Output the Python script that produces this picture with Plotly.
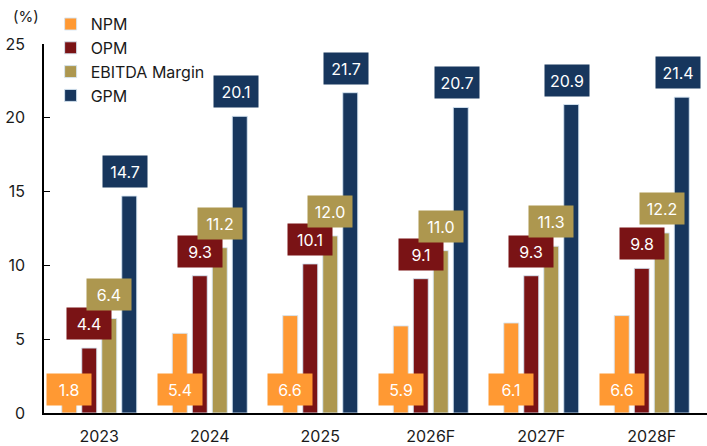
import plotly.graph_objects as go

categories = ["2023", "2024", "2025", "2026F", "2027F", "2028F"]
npm = [1.8, 5.4, 6.6, 5.9, 6.1, 6.6]
opm = [4.4, 9.3, 10.1, 9.1, 9.3, 9.8]
ebitda = [6.4, 11.2, 12.0, 11.0, 11.3, 12.2]
gpm = [14.7, 20.1, 21.7, 20.7, 20.9, 21.4]
y_ticks = [0, 5, 10, 15, 20, 25]

series = [
    ("NPM", npm, "#FF9933"),
    ("OPM", opm, "#7A1315"),
    ("EBITDA Margin", ebitda, "#AD974F"),
    ("GPM", gpm, "#17365D"),
]

FONT = "Inter, Liberation Sans, sans-serif"
TXT = "#1a1a1a"
bargap = 0.276
n = len(series)
slot = (1 - bargap) / n
xs = list(range(len(categories)))

fig = go.Figure()
annotations = []
for k, (name, vals, color) in enumerate(series):
    fig.add_trace(go.Bar(
        x=xs, y=vals, name=name, hoverinfo="skip",
        marker=dict(color=color, line=dict(color="rgba(214,230,243,0.9)", width=1)),
    ))
    off = (k - (n - 1) / 2) * slot
    for i, v in enumerate(vals):
        if name == "NPM":
            ay, yshift = 0, 7
        else:
            ay, yshift = v, 8
        annotations.append(dict(
            x=xs[i] + off, y=ay, xref="x", yref="y",
            text=f"{v:.1f}", showarrow=False,
            yanchor="bottom", xanchor="center", yshift=yshift,
            xshift=-4 if name == "GPM" else 0,
            bgcolor=color, width=42, height=29,
            font=dict(family=FONT, size=16, color="white"),
        ))

annotations.append(dict(
    x=-0.05, y=1.075, xref="paper", yref="paper", text="(%)", showarrow=False,
    xanchor="left", yanchor="middle",
    font=dict(family=FONT, size=15, color=TXT),
))

fig.update_layout(
    width=707, height=446,
    margin=dict(l=44, r=0, t=44, b=33),
    paper_bgcolor="white", plot_bgcolor="white",
    barmode="group", bargap=bargap, bargroupgap=0.25,
    font=dict(family=FONT, size=16, color=TXT),
    showlegend=True,
    legend=dict(x=0.01, y=1.1, xanchor="left", yanchor="top",
                bgcolor="rgba(0,0,0,0)", font=dict(family=FONT, size=16, color=TXT),
                tracegroupgap=0, itemwidth=30),
    annotations=annotations,
)
fig.update_xaxes(
    tickvals=xs, ticktext=categories, range=[-0.5, len(categories) - 0.5],
    showline=True, linecolor="black", linewidth=2, showgrid=False,
    ticks="", ticklabelstandoff=8, zeroline=False, automargin=False,
    tickfont=dict(family=FONT, size=16, color=TXT),
)
fig.update_yaxes(
    range=[0, 25], tickvals=y_ticks, showline=True, linecolor="black", linewidth=1.5,
    showgrid=False, ticks="inside", ticklen=6, tickcolor="black", zeroline=False,
    ticklabelstandoff=14, automargin=False,
    tickfont=dict(family=FONT, size=16, color=TXT),
)

fig.write_html("out.html", config={"displayModeBar": False},
               post_script="document.body.style.margin='0';")
